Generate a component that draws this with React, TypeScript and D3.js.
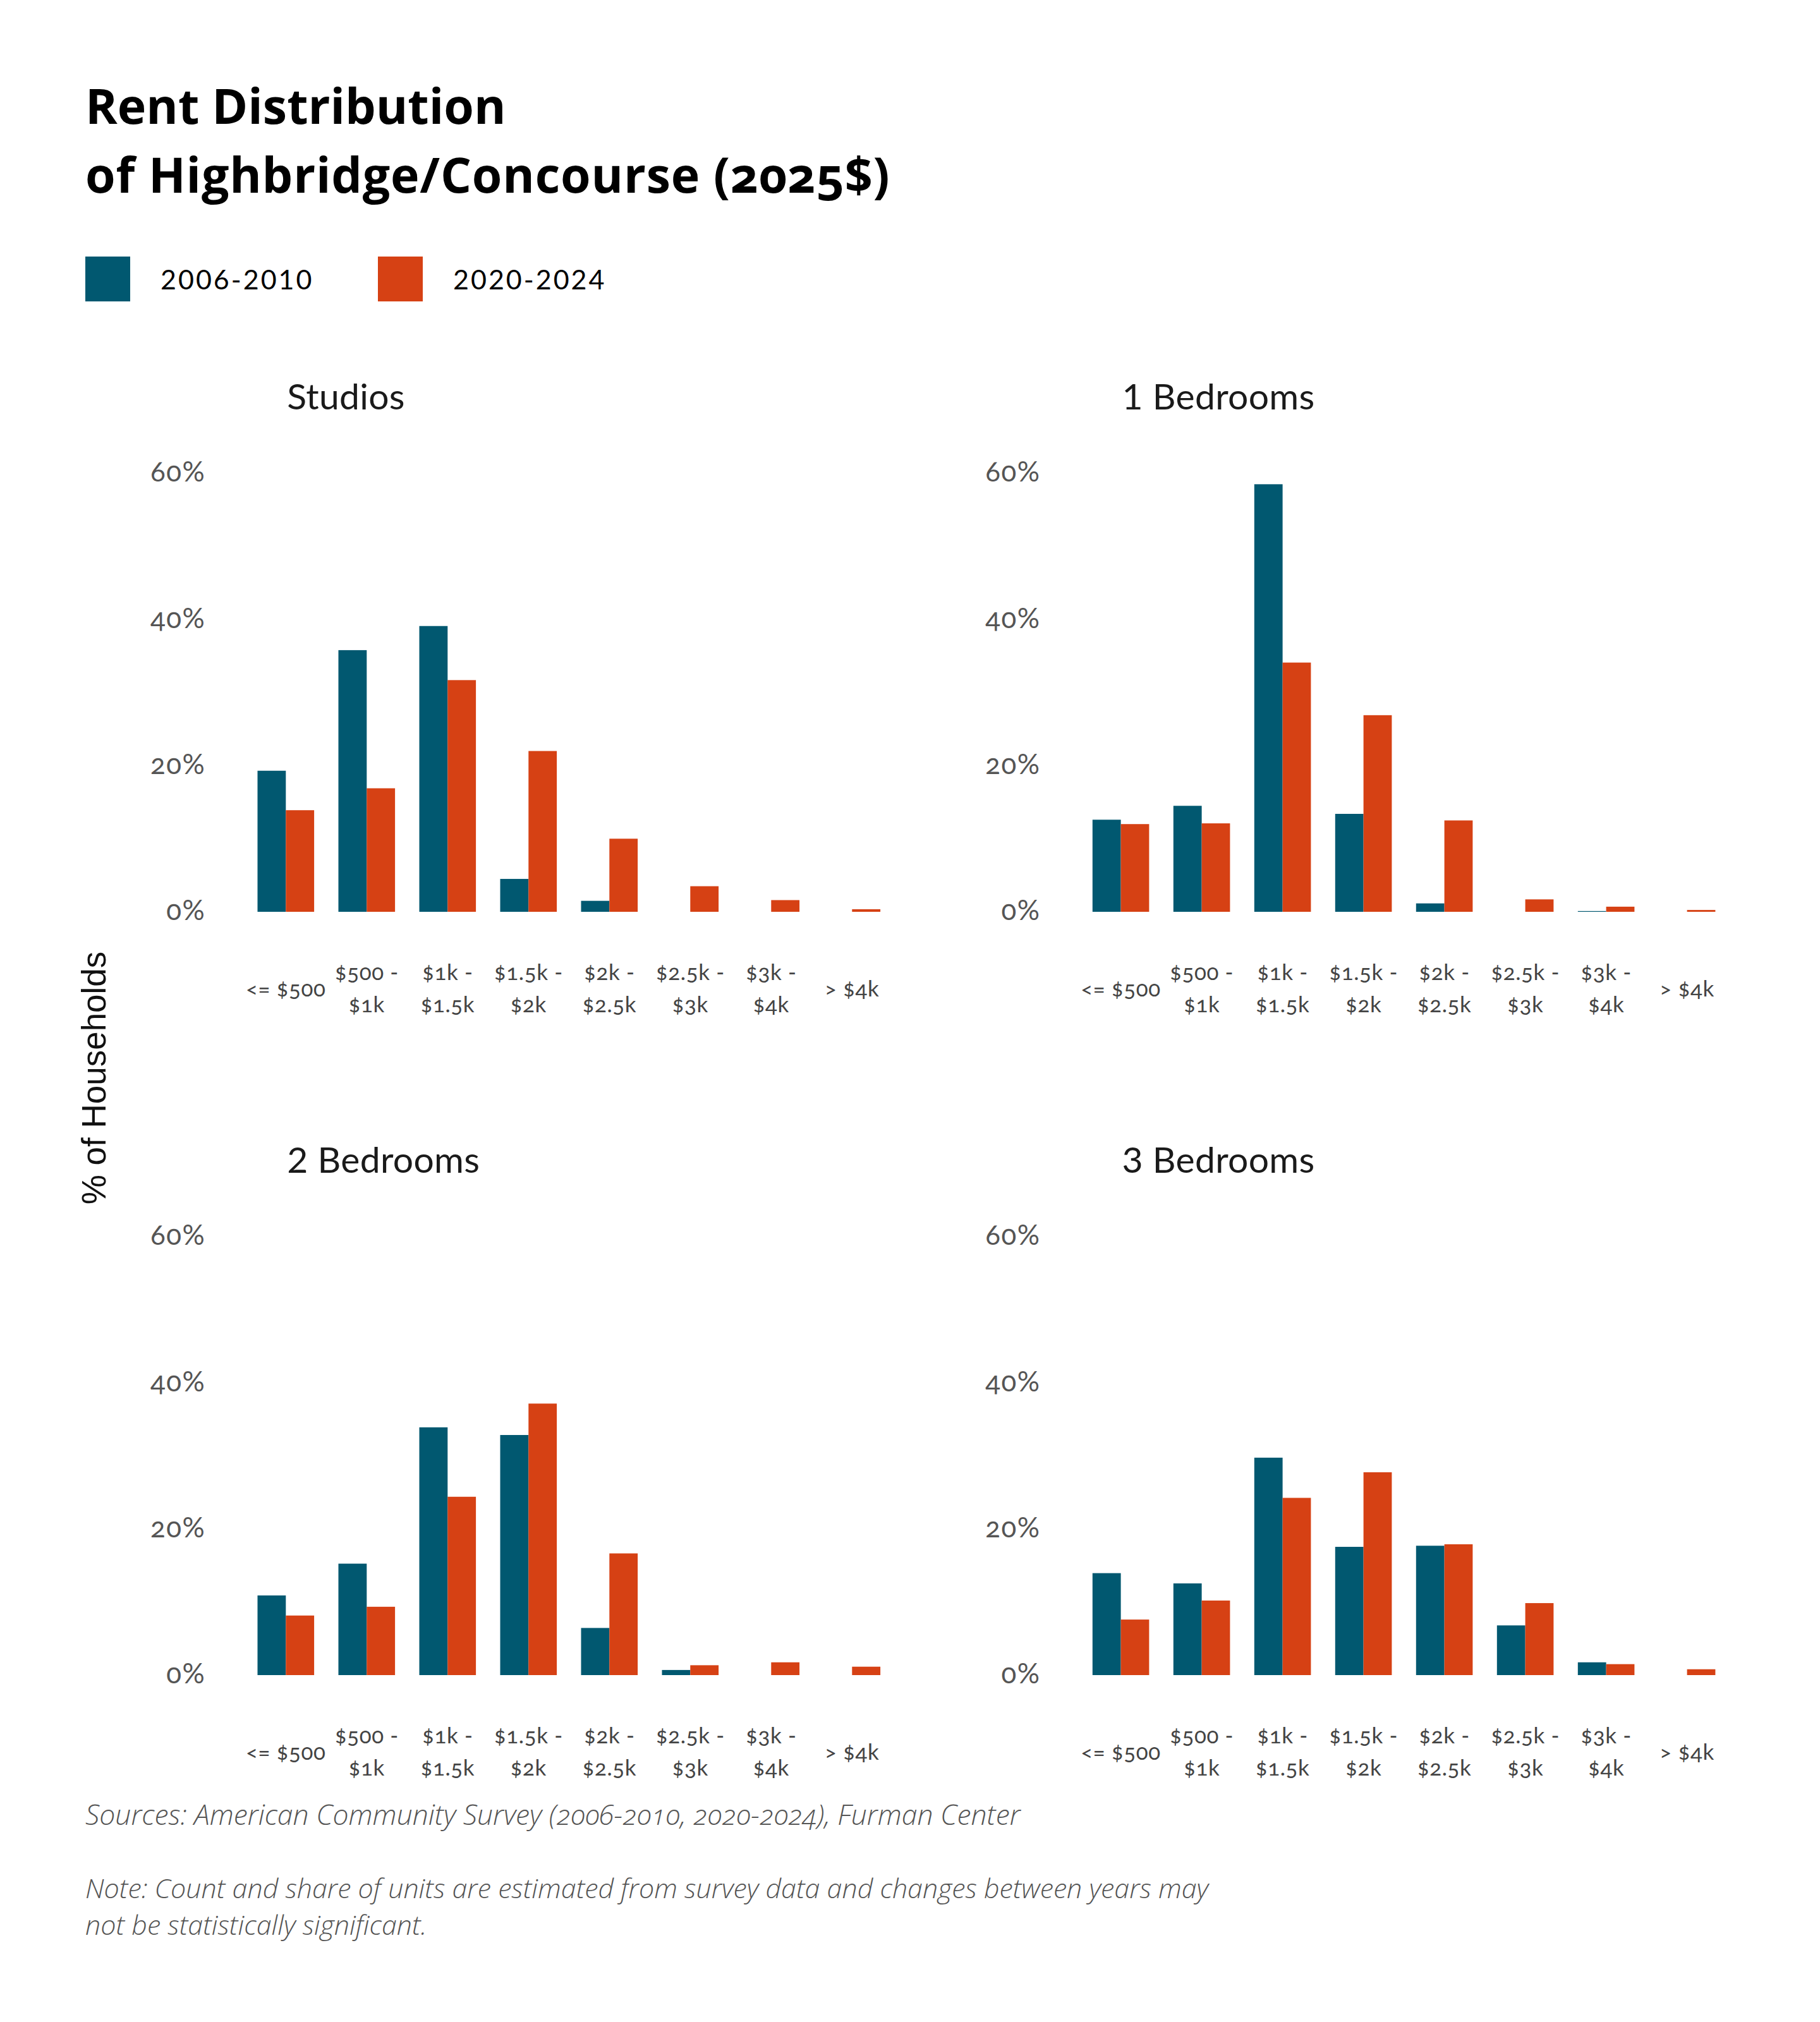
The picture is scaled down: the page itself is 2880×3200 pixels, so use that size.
import React from "react";
import * as d3 from "d3";

const categories = ["<= $500", "$500 - $1k", "$1k - $1.5k", "$1.5k - $2k", "$2k - $2.5k", "$2.5k - $3k", "$3k - $4k", "> $4k"];
const seriesNames = ["2006-2010", "2020-2024"];
const panelTitles = ["Studios", "1 Bedrooms", "2 Bedrooms", "3 Bedrooms"];
const studios2006 = [19.3, 35.8, 39.1, 4.5, 1.5, 0, 0, 0];
const studios2020 = [13.9, 16.9, 31.7, 22.0, 10.0, 3.5, 1.6, 0.35];
const oneBed2006 = [12.6, 14.5, 58.5, 13.4, 1.15, 0, 0.1, 0];
const oneBed2020 = [12.0, 12.1, 34.1, 26.9, 12.5, 1.7, 0.7, 0.25];
const twoBed2006 = [10.9, 15.25, 33.9, 32.85, 6.45, 0.7, 0, 0];
const twoBed2020 = [8.15, 9.35, 24.4, 37.15, 16.65, 1.35, 1.75, 1.15];
const threeBed2006 = [13.95, 12.55, 29.75, 17.55, 17.7, 6.8, 1.75, 0];
const threeBed2020 = [7.6, 10.2, 24.25, 27.75, 17.9, 9.85, 1.5, 0.8];
const yTicks = [0, 20, 40, 60];

const COLORS = ["#015870", "#d64114"];
const W = 2880;
const H = 3200;

const panelData = [
  [studios2006, studios2020],
  [oneBed2006, oneBed2020],
  [twoBed2006, twoBed2020],
  [threeBed2006, threeBed2020],
];

const colX = [388.3, 1709.6];
const rowBase = [1443, 2651];
const STEP = 128;
const Y_SPAN = 694;

const labelFont = "Lato, 'Open Sans', sans-serif";

function Panel({ idx }: { idx: number }) {
  const col = idx % 2;
  const row = Math.floor(idx / 2);
  const x0 = colX[col];
  const base = rowBase[row];
  const x = d3.scaleBand<string>().domain(categories).range([x0, x0 + STEP * categories.length]).paddingInner(0.3).paddingOuter(0.15);
  const xs = d3.scaleBand<string>().domain(seriesNames).range([0, x.bandwidth()]).padding(0);
  const y = d3.scaleLinear().domain([0, 60]).range([base, base - Y_SPAN]);
  const data = panelData[idx];
  const tickRight = x0 - 63;
  return (
    <g>
      <text x={x0 + 66} y={base - 795} fontFamily={labelFont} fontSize={57} letterSpacing={0.3} fill="#1a1a1a">
        {panelTitles[idx]}
      </text>
      {yTicks.map((t) => (
        <text key={t} x={tickRight} y={y(t)} dy="0.3em" textAnchor="end" fontFamily={labelFont} fontSize={44} letterSpacing={1.5} fill="#555" style={{ fontVariantNumeric: "oldstyle-nums" }}>
          {t + "%"}
        </text>
      ))}
      {categories.map((c, i) => (
        <g key={c}>
          {seriesNames.map((s, si) => {
            const v = data[si][i];
            if (v <= 0) return null;
            return (
              <rect key={s} x={(x(c) as number) + (xs(s) as number)} y={y(v)} width={xs.bandwidth()} height={y(0) - y(v)} fill={COLORS[si]} />
            );
          })}
        </g>
      ))}
      {categories.map((c) => {
        const cx = (x(c) as number) + x.bandwidth() / 2;
        const parts = c.includes(" - ") ? [c.split(" - ")[0] + " -", c.split(" - ")[1]] : [c];
        if (parts.length === 1) {
          return (
            <text key={c} x={cx} y={base + 134} textAnchor="middle" fontFamily={labelFont} fontSize={35} letterSpacing={0.6} fill="#444" style={{ fontVariantNumeric: "oldstyle-nums" }}>
              {c}
            </text>
          );
        }
        return (
          <text key={c} x={cx} textAnchor="middle" fontFamily={labelFont} fontSize={35} letterSpacing={0.6} fill="#444" style={{ fontVariantNumeric: "oldstyle-nums" }}>
            <tspan x={cx} y={base + 108}>{parts[0]}</tspan>
            <tspan x={cx} y={base + 159}>{parts[1]}</tspan>
          </text>
        );
      })}
    </g>
  );
}

export default function App() {
  return (
    <svg width={W} height={H} viewBox={`0 0 ${W} ${H}`} style={{ position: "absolute", left: 0, top: 0, display: "block", background: "#fff" }}>
      <rect x={0} y={0} width={W} height={H} fill="#fff" />
      <text x={135} y={196} fontFamily="'Open Sans', sans-serif" fontWeight={700} fontSize={77} fill="#000">
        Rent Distribution
      </text>
      <text x={135} y={305} fontFamily="'Open Sans', sans-serif" fontWeight={700} fontSize={77} letterSpacing={0.8} fill="#000" style={{ fontVariantNumeric: "oldstyle-nums" }}>
        of Highbridge/Concourse (2025$)
      </text>
      {seriesNames.map((s, i) => (
        <g key={s}>
          <rect x={135 + i * 463} y={406} width={71} height={71} fill={COLORS[i]} />
          <text x={254 + i * 463} y={458} fontFamily={labelFont} fontSize={43} letterSpacing={3} fill="#000">
            {s}
          </text>
        </g>
      ))}
      <text transform="translate(167,1706) rotate(-90)" textAnchor="middle" fontFamily="'Liberation Sans', Arial, sans-serif" fontSize={53} fill="#111">
        % of Households
      </text>
      {panelTitles.map((p, i) => (
        <Panel key={p} idx={i} />
      ))}
      <text x={135} y={2888} fontFamily="'Open Sans', sans-serif" fontStyle="italic" fontWeight={300} fontSize={44.5} fill="#555" style={{ fontVariantNumeric: "oldstyle-nums" }}>
        Sources: American Community Survey (2006-2010, 2020-2024), Furman Center
      </text>
      <text x={135} y={3004} fontFamily="'Open Sans', sans-serif" fontStyle="italic" fontWeight={300} fontSize={43} fill="#555">
        Note: Count and share of units are estimated from survey data and changes between years may
      </text>
      <text x={135} y={3062} fontFamily="'Open Sans', sans-serif" fontStyle="italic" fontWeight={300} fontSize={43} fill="#555">
        not be statistically significant.
      </text>
    </svg>
  );
}
